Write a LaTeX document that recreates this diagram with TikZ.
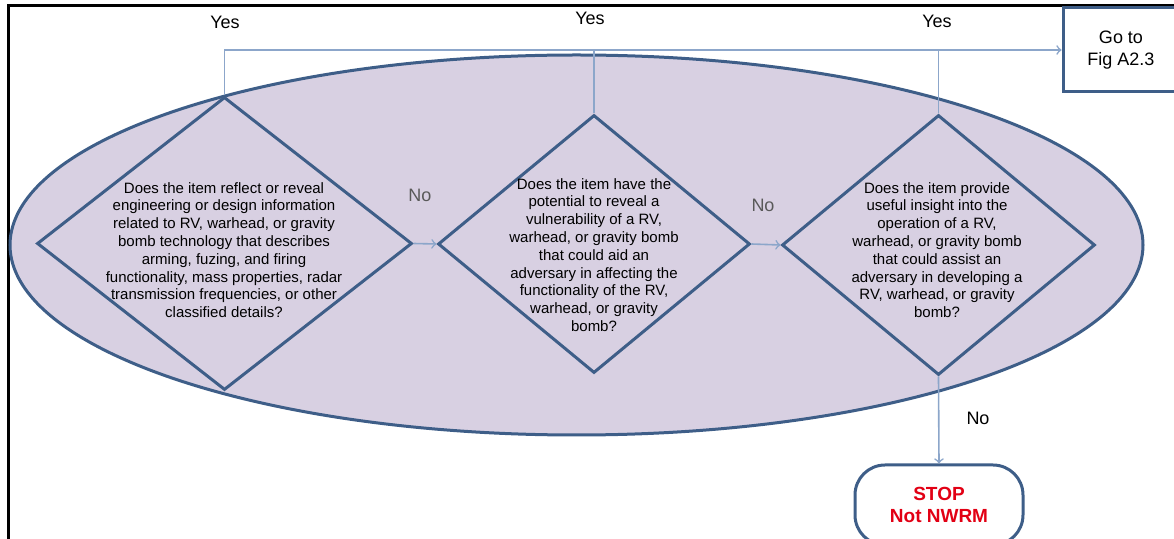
\documentclass[tikz,border=0pt]{standalone}
\usepackage{fontspec}
\setmainfont{Liberation Sans}
\usetikzlibrary{shapes.geometric}
\definecolor{ovalfill}{RGB}{216,208,226}
\definecolor{edgeblue}{RGB}{62,94,136}
\definecolor{linkblue}{RGB}{140,166,202}
\definecolor{stopred}{RGB}{226,0,20}

\begin{document}
\begin{tikzpicture}[x=0.5pt,y=-0.5pt,
    question/.style={diamond, draw=edgeblue, line width=1.5pt, inner sep=0pt},
    qtext/.style={align=center, font=\fontsize{7.5}{8.9}\selectfont},
    link/.style={draw=linkblue, line width=0.8pt},
    answer/.style={font=\fontsize{9}{11}\selectfont}]
   \useasboundingbox (0,0) rectangle (1174,539);
   \draw[line width=1.5pt] (8,6) rectangle (1190,570);

   \node[ellipse, draw=edgeblue, fill=ovalfill, line width=1.5pt,
         minimum width=566.5pt, minimum height=190pt] at (576.5,245) (oval) {};

   \node[question, minimum width=187.5pt, minimum height=146.5pt] at (224.5,243.5) (q1) {};
   \node[question, minimum width=156pt, minimum height=129pt] at (594,244) (q2) {};
   \node[question, minimum width=156.5pt, minimum height=130pt] at (938.5,245) (q3) {};

   \node[qtext] at (224,250) (q1text) {Does the item reflect or reveal\\
      engineering or design information\\
      related to RV, warhead, or gravity\\
      bomb technology that describes\\
      arming, fuzing, and firing\\
      functionality, mass properties, radar\\
      transmission frequencies, or other\\
      classified details?};
   \node[qtext] at (594,255) (q2text) {Does the item have the\\
      potential to reveal a\\
      vulnerability of a RV,\\
      warhead, or gravity bomb\\
      that could aid an\\
      adversary in affecting the\\
      functionality of the RV,\\
      warhead, or gravity\\
      bomb?};
   \node[qtext] at (937,250) (q3text) {Does the item provide\\
      useful insight into the\\
      operation of a RV,\\
      warhead, or gravity bomb\\
      that could assist an\\
      adversary in developing a\\
      RV, warhead, or gravity\\
      bomb?};

   \node[draw=edgeblue, line width=1.5pt, minimum width=58pt, minimum height=42pt,
         align=center, answer] at (1121,50) (goto) {Go to\\Fig A2.3};
   \node[draw=edgeblue, line width=1.5pt, rounded corners=15pt, minimum width=84pt,
         minimum height=40pt, align=center, text=stopred,
         font=\bfseries\fontsize{9.5}{11}\selectfont] at (939,505) (stop) {STOP\\Not NWRM};

   \draw[link,->] (q1.east) -- (q2.west);
   \draw[link,->] (q2.east) -- (q3.west);
   \draw[link,->] (q1.north) |- (goto.west);
   \draw[link] (q2.north) -- (q2.north |- goto.west);
   \draw[link] (q3.north) -- (q3.north |- goto.west);
   \draw[link,->] (q3.south) -- (stop.north);

   \node[answer] at (225,22) (yes1) {Yes};
   \node[answer] at (590,18) (yes2) {Yes};
   \node[answer] at (937,21) (yes3) {Yes};
   \node[answer, text=black!65] at (420,195) (no1) {No};
   \node[answer, text=black!65] at (763,205) (no2) {No};
   \node[answer] at (978,418) (no3) {No};
\end{tikzpicture}
\end{document}
